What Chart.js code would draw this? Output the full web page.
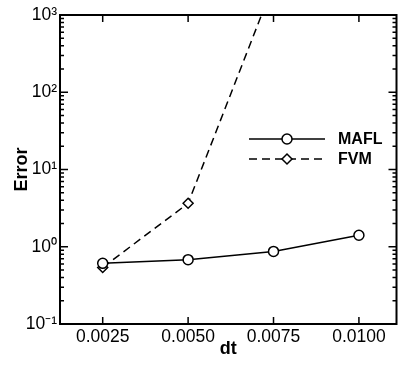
<!DOCTYPE html>
<html>
<head>
<meta charset="utf-8">
<script src="https://cdn.jsdelivr.net/npm/chart.js@4.4.1/dist/chart.umd.min.js"></script>
<style>
    html, body { margin: 0; padding: 0; background: #fff; }
    #caja { width: 403px; height: 365px; }
</style>
</head>
<body>
<div id="caja"><canvas id="miGrafico"></canvas></div>
<script>
// Datos
var dtValores = [0.0025, 0.0050, 0.0075, 0.0100];
var errorMAFL = [0.61, 0.68, 0.87, 1.41];
var errorFVM = [0.54, 3.65, 2500, null];
var nombresSeries = ['MAFL', 'FVM'];
var ticksX = [0.0025, 0.0050, 0.0075, 0.0100];
var ticksY = [0.1, 1, 10, 100, 1000];
var etiquetasY = ['10⁻¹', '10⁰', '10¹', '10²', '10³'];

Chart.defaults.font.family = '"Liberation Sans", Arial, sans-serif';
Chart.defaults.color = '#000';

// Marco, ticks hacia dentro y leyenda
var marcoPlugin = {
    id: 'marco',
    afterDatasetsDraw: function (chart) {
        var ctx = chart.ctx;
        var a = chart.chartArea;
        var sx = chart.scales.x;
        var sy = chart.scales.y;
        ctx.save();
        ctx.strokeStyle = '#000';
        ctx.lineWidth = 2;
        ctx.strokeRect(a.left, a.top, a.right - a.left, a.bottom - a.top);

        ctx.lineWidth = 1.5;
        ctx.beginPath();
        ticksX.forEach(function (v) {
            var px = sx.getPixelForValue(v);
            ctx.moveTo(px, a.bottom); ctx.lineTo(px, a.bottom - 7);
            ctx.moveTo(px, a.top); ctx.lineTo(px, a.top + 7);
        });
        for (var i = 0; i < ticksY.length; i++) {
            for (var k = 1; k <= 9; k++) {
                if (i === ticksY.length - 1 && k > 1) break;
                var py = sy.getPixelForValue(ticksY[i] * k);
                var len = k === 1 ? 8 : 4;
                ctx.moveTo(a.left, py); ctx.lineTo(a.left + len, py);
                ctx.moveTo(a.right, py); ctx.lineTo(a.right - len, py);
            }
        }
        ctx.stroke();

        // Leyenda
        var filas = [139, 159];
        chart.data.datasets.forEach(function (ds, j) {
            var y = filas[j];
            ctx.lineWidth = ds.borderWidth;
            ctx.setLineDash(ds.borderDash || []);
            ctx.beginPath();
            ctx.moveTo(249, y); ctx.lineTo(325, y);
            ctx.stroke();
            ctx.setLineDash([]);
            ctx.fillStyle = '#fff';
            Chart.helpers.drawPoint(ctx, {
                pointStyle: ds.pointStyle, radius: ds.pointRadius,
                rotation: 0, borderWidth: ds.pointBorderWidth
            }, 287, y);
            ctx.fillStyle = '#000';
            ctx.font = 'bold 16px "Liberation Sans", Arial, sans-serif';
            ctx.textBaseline = 'middle';
            ctx.textAlign = 'left';
            ctx.fillText(ds.label, 338, y + 1);
        });
        ctx.restore();
    }
};

var canvas = document.getElementById('miGrafico');

var datos = {
    labels: dtValores,
    datasets: [
        {
            label: nombresSeries[0],
            data: dtValores.map(function (x, i) { return { x: x, y: errorMAFL[i] }; }),
            borderColor: '#000',
            borderWidth: 1.5,
            pointStyle: 'circle',
            pointRadius: 5,
            pointBorderWidth: 1.5,
            pointBorderColor: '#000',
            pointBackgroundColor: '#fff',
            tension: 0
        },
        {
            label: nombresSeries[1],
            data: dtValores.map(function (x, i) { return { x: x, y: errorFVM[i] }; }),
            borderColor: '#000',
            borderWidth: 1.5,
            borderDash: [8, 5],
            pointStyle: 'rectRot',
            pointRadius: 5,
            pointBorderWidth: 1.5,
            pointBorderColor: '#000',
            pointBackgroundColor: '#fff',
            tension: 0
        }
    ]
};

var configuracion = {
    type: 'line',
    data: datos,
    options: {
        responsive: true,
        maintainAspectRatio: false,
        animation: false,
        layout: { padding: { top: 15, right: 2, left: 0, bottom: 0 } },
        plugins: { legend: { display: false }, tooltip: { enabled: false } },
        scales: {
            x: {
                type: 'linear',
                min: 0.00125,
                max: 0.0111,
                grid: { display: false, drawTicks: false },
                border: { display: false },
                afterBuildTicks: function (s) { s.ticks = ticksX.map(function (v) { return { value: v }; }); },
                afterFit: function (s) { s.height = 41; },
                ticks: {
                    padding: 3,
                    maxRotation: 0,
                    font: { size: 17.5 },
                    callback: function (v) { return v.toFixed(4); }
                },
                title: {
                    display: true,
                    text: 'dt',
                    font: { size: 18, weight: 'bold' },
                    padding: { top: 0, bottom: 5 }
                }
            },
            y: {
                type: 'logarithmic',
                min: 0.1,
                max: 1000,
                grid: { display: false, drawTicks: false },
                border: { display: false },
                afterBuildTicks: function (s) { s.ticks = ticksY.map(function (v) { return { value: v }; }); },
                afterFit: function (s) { s.width = 60; },
                ticks: {
                    padding: 3,
                    font: { size: 17.5 },
                    callback: function (v) { return etiquetasY[ticksY.indexOf(v)]; }
                },
                title: {
                    display: true,
                    text: 'Error',
                    font: { size: 18, weight: 'bold' },
                    padding: { top: 11, bottom: 0 }
                }
            }
        }
    },
    plugins: [marcoPlugin]
};

var miGrafico = new Chart(canvas, configuracion);
</script>
</body>
</html>
